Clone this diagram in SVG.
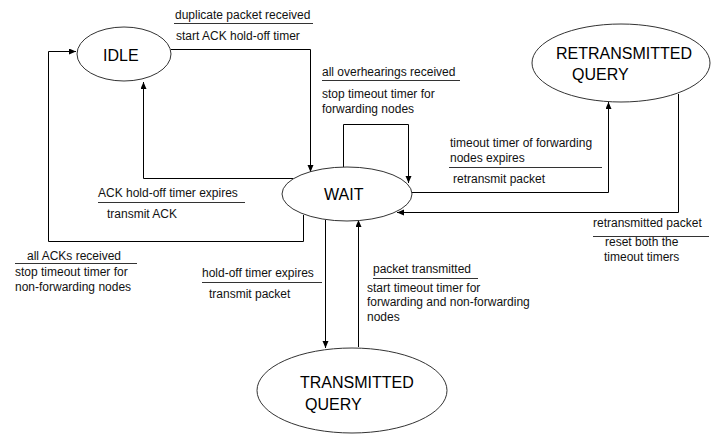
<svg xmlns="http://www.w3.org/2000/svg" width="712" height="434" viewBox="0 0 712 434">
<style>
.bg{fill:#fff}
.node{fill:#fff;stroke:#333;stroke-width:1}
.st{font-family:"Liberation Sans",Arial,sans-serif;font-size:16px;fill:#000}
.lb{font-family:"Liberation Sans",Arial,sans-serif;font-size:12px;fill:#111}
.c{fill:none;stroke:#000;stroke-width:1}
.ul{stroke:#333;stroke-width:1.2}
</style>
<defs>
<marker id="ah" markerUnits="userSpaceOnUse" markerWidth="8" markerHeight="7" refX="7" refY="3" orient="auto">
<path d="M0,0 L7,3 L0,6 z" fill="#000"/>
</marker>
</defs>
<rect class="bg" x="0" y="0" width="712" height="434"/>
<g id="connectors">
<path class="c" d="M171,49.5 H310.5 V172" marker-end="url(#ah)"/>
<path class="c" d="M293,178.5 H143.5 V82" marker-end="url(#ah)"/>
<path class="c" d="M303.5,215 V241.5 H48.5 V51.5 H76" marker-end="url(#ah)"/>
<path class="c" d="M343.5,167 V124.5 H408.5 V183" marker-end="url(#ah)"/>
<path class="c" d="M412,192.5 H608.5 V102" marker-end="url(#ah)"/>
<path class="c" d="M678.5,94 V212.5 H397" marker-end="url(#ah)"/>
<path class="c" d="M325.5,220 V348" marker-end="url(#ah)"/>
<path class="c" d="M358.5,347 V220" marker-end="url(#ah)"/>
</g>
<g id="labels">
<text class="lb" x="175" y="19">duplicate packet received</text>
<line class="ul" x1="174" y1="23.5" x2="313" y2="23.5"/>
<text class="lb" x="176" y="40">start ACK hold-off timer</text>

<text class="lb" x="322" y="76">all overhearings received</text>
<line class="ul" x1="322" y1="80.5" x2="460" y2="80.5"/>
<text class="lb" x="322" y="98">stop timeout timer for</text>
<text class="lb" x="322" y="113">forwarding nodes</text>

<text class="lb" x="450" y="147">timeout timer of forwarding</text>
<text class="lb" x="450" y="162">nodes expires</text>
<line class="ul" x1="449" y1="167.5" x2="602" y2="167.5"/>
<text class="lb" x="453" y="183">retransmit packet</text>

<text class="lb" x="593" y="227">retransmitted packet</text>
<line class="ul" x1="593" y1="236.5" x2="709" y2="236.5"/>
<text class="lb" x="605" y="246">reset both the</text>
<text class="lb" x="604" y="261">timeout timers</text>

<text class="lb" x="98" y="197">ACK hold-off timer expires</text>
<line class="ul" x1="98" y1="202.5" x2="245" y2="202.5"/>
<text class="lb" x="107" y="218">transmit ACK</text>

<text class="lb" x="27" y="260">all ACKs received</text>
<line class="ul" x1="15" y1="263.5" x2="137" y2="263.5"/>
<text class="lb" x="15" y="276">stop timeout timer for</text>
<text class="lb" x="15" y="291">non-forwarding nodes</text>

<text class="lb" x="202" y="277">hold-off timer expires</text>
<line class="ul" x1="202" y1="282.5" x2="322" y2="282.5"/>
<text class="lb" x="209" y="298">transmit packet</text>

<text class="lb" x="373" y="273">packet transmitted</text>
<line class="ul" x1="373" y1="278.5" x2="478" y2="278.5"/>
<text class="lb" x="367" y="292">start timeout timer for</text>
<text class="lb" x="367" y="306">forwarding and non-forwarding</text>
<text class="lb" x="367" y="321">nodes</text>
</g>
<g id="idle">
<ellipse class="node" cx="124" cy="54" rx="47" ry="27"/>
<text class="st" x="103" y="61">IDLE</text>
</g>
<g id="wait">
<ellipse class="node" cx="347" cy="194" rx="65" ry="27"/>
<text class="st" x="324" y="200">WAIT</text>
</g>
<g id="retransmitted">
<ellipse class="node" cx="621" cy="63" rx="89" ry="39"/>
<text class="st" x="556" y="59">RETRANSMITTED</text>
<text class="st" x="572" y="80">QUERY</text>
</g>
<g id="transmitted">
<ellipse class="node" cx="352" cy="390.5" rx="95" ry="42.5"/>
<text class="st" x="300" y="388">TRANSMITTED</text>
<text class="st" x="305" y="410">QUERY</text>
</g>
</svg>
